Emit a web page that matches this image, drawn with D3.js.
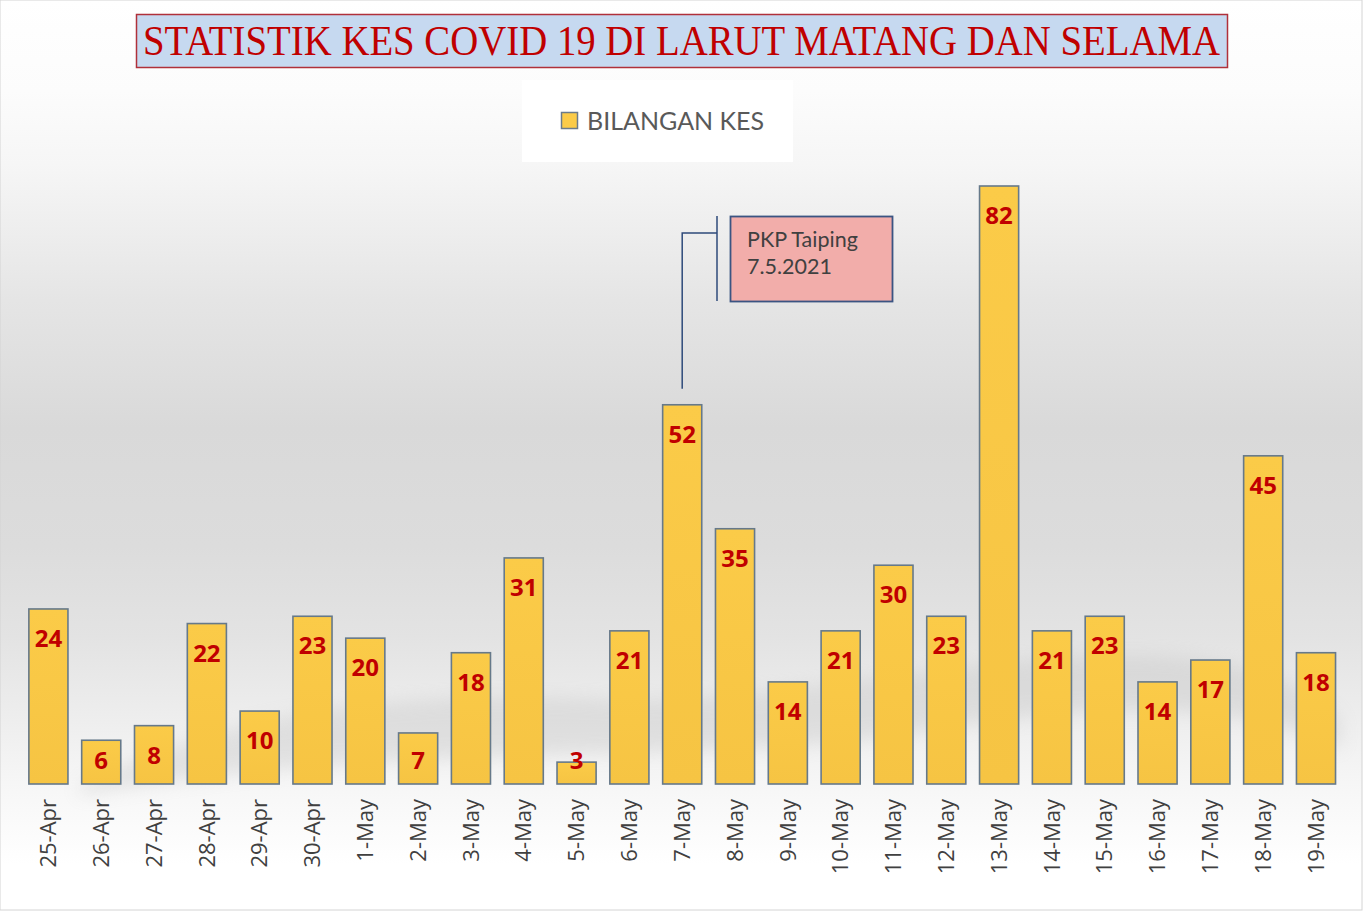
<!DOCTYPE html>
<html>
<head>
<meta charset="utf-8">
<script src="https://cdn.jsdelivr.net/npm/d3@7"></script>
<style>
    body { margin: 0; background: #fff; }
    svg { display: block; }
</style>
</head>
<body>
<svg id="chart" width="1365" height="916"></svg>
<script>
// Daily case counts, 25 Apr - 19 May 2021
var dates = ["25-Apr", "26-Apr", "27-Apr", "28-Apr", "29-Apr", "30-Apr", "1-May", "2-May", "3-May",
    "4-May", "5-May", "6-May", "7-May", "8-May", "9-May", "10-May", "11-May", "12-May", "13-May",
    "14-May", "15-May", "16-May", "17-May", "18-May", "19-May"];
var cases = [24, 6, 8, 22, 10, 23, 20, 7, 18, 31, 3, 21, 52, 35, 14, 21, 30, 23, 82, 21, 23, 14, 17, 45, 18];

var titleText = "STATISTIK KES COVID 19 DI LARUT MATANG DAN SELAMA";
var legendText = "BILANGAN KES";
var noteLines = ["PKP Taiping", "7.5.2021"];
var noteDate = "7-May";

var svg = d3.select("#chart");
var W = +svg.attr("width"), H = +svg.attr("height");
var baseline = 784;

var defs = svg.append("defs");

// Background: white at top, grey band in the middle, fading back near the labels
var bg = defs.append("linearGradient").attr("id", "bg").attr("x1", 0).attr("y1", 0).attr("x2", 0).attr("y2", 1);
[[0, "#ffffff"], [0.1, "#fcfcfc"], [0.18, "#f6f6f6"], [0.33, "#e5e5e5"], [0.47, "#d9d9d9"],
    [0.6, "#dcdcdc"], [0.7, "#e3e3e3"], [0.86, "#f6f6f6"], [0.95, "#ffffff"]].forEach(function (s) {
    bg.append("stop").attr("offset", s[0]).attr("stop-color", s[1]);
});

var barGrad = defs.append("linearGradient").attr("id", "barFill").attr("x1", 0).attr("y1", 0).attr("x2", 0).attr("y2", 1);
barGrad.append("stop").attr("offset", 0).attr("stop-color", "#fbcb48");
barGrad.append("stop").attr("offset", 1).attr("stop-color", "#f6c443");

defs.append("filter").attr("id", "blur").attr("x", "-20%").attr("y", "-50%").attr("width", "140%").attr("height", "200%")
    .append("feGaussianBlur").attr("stdDeviation", 9);

svg.append("rect").attr("width", W - 3).attr("height", H - 6)
    .attr("fill", "url(#bg)").attr("stroke", "#d4d4d4").attr("stroke-width", 1);

// Faint reflection shadow sweeping up under the bars
svg.append("path")
    .attr("d", "M80,785 C250,700 450,690 620,700 C800,700 1000,650 1150,655 C1250,658 1320,690 1340,720 L1340,750 C1250,700 1100,700 900,735 C700,765 400,740 80,795 Z")
    .attr("fill", "#b8b8b8").attr("opacity", 0.3).attr("filter", "url(#blur)");

// Scales
var x = d3.scaleBand().domain(dates).range([22, 1342.4]).paddingInner(0.26).paddingOuter(0.13);
var y = d3.scaleLinear().domain([0, d3.max(cases)]).range([baseline, 186]);

// Title box
svg.append("rect").attr("x", 136.5).attr("y", 14.5).attr("width", 1091).attr("height", 53)
    .attr("fill", "#c6d9f0").attr("stroke", "#b0303a").attr("stroke-width", 1.5);
svg.append("text").attr("x", 143).attr("y", 55)
    .attr("textLength", 1077).attr("lengthAdjust", "spacingAndGlyphs")
    .style("font-family", "'Liberation Serif', 'DejaVu Serif', serif")
    .style("font-size", "43px").attr("fill", "#c00000")
    .text(titleText);

// Legend
var legend = svg.append("g");
legend.append("rect").attr("x", 522).attr("y", 80).attr("width", 271).attr("height", 82).attr("fill", "#ffffff");
legend.append("rect").attr("x", 561.5).attr("y", 112.5).attr("width", 16).attr("height", 16)
    .attr("fill", "#fbcb48").attr("stroke", "#6b7b8a").attr("stroke-width", 1.5);
legend.append("text").attr("x", 587).attr("y", 130)
    .style("font-family", "Lato, 'Open Sans', sans-serif").style("font-size", "25px").attr("fill", "#595959")
    .text(legendText);

// Bars
var bars = svg.append("g").attr("class", "bars");
bars.selectAll("rect").data(cases).enter().append("rect")
    .attr("x", function (d, i) { return x(dates[i]); })
    .attr("y", function (d) { return y(d); })
    .attr("width", x.bandwidth())
    .attr("height", function (d) { return baseline - y(d); })
    .attr("fill", "url(#barFill)")
    .attr("stroke", "#66798a").attr("stroke-width", 1.6);

// Value labels, inside the top of each bar
bars.selectAll("text").data(cases).enter().append("text")
    .attr("x", function (d, i) { return x(dates[i]) + x.bandwidth() / 2; })
    .attr("y", function (d) { return Math.min(y(d) + 38, baseline - 15); })
    .attr("text-anchor", "middle")
    .style("font-family", "'Open Sans', Lato, sans-serif").style("font-weight", "bold").style("font-size", "24px")
    .attr("fill", "#c00000")
    .text(function (d) { return d; });

// X axis labels (rotated)
var xAxis = svg.append("g").attr("transform", "translate(0," + baseline + ")")
    .call(d3.axisBottom(x).tickSize(0).tickPadding(0));
xAxis.select(".domain").remove();
xAxis.selectAll("text")
    .attr("transform", "rotate(-90)")
    .attr("x", -15).attr("y", 0).attr("dy", "0.35em")
    .attr("text-anchor", "end")
    .style("font-family", "'Open Sans', Lato, sans-serif").style("font-size", "22px")
    .attr("fill", "#404040");

// Callout for PKP Taiping
var cx = x(noteDate) + x.bandwidth() / 2;
var note = svg.append("g");
note.append("path")
    .attr("d", "M" + cx + "," + (y(cases[dates.indexOf(noteDate)]) - 16) + "V233H717")
    .attr("fill", "none").attr("stroke", "#2e4a7a").attr("stroke-width", 1.5);
note.append("line").attr("x1", 717).attr("x2", 717).attr("y1", 216).attr("y2", 301)
    .attr("stroke", "#2e4a7a").attr("stroke-width", 1.5);
note.append("rect").attr("x", 730.5).attr("y", 216.5).attr("width", 162).attr("height", 85)
    .attr("fill", "#f2adaa").attr("stroke", "#3b5482").attr("stroke-width", 1.8);
note.selectAll("text").data(noteLines).enter().append("text")
    .attr("x", 747).attr("y", function (d, i) { return 247 + i * 27; })
    .style("font-family", "Lato, 'Open Sans', sans-serif").style("font-size", "21.5px").attr("fill", "#404040")
    .text(function (d) { return d; });
</script>
</body>
</html>
